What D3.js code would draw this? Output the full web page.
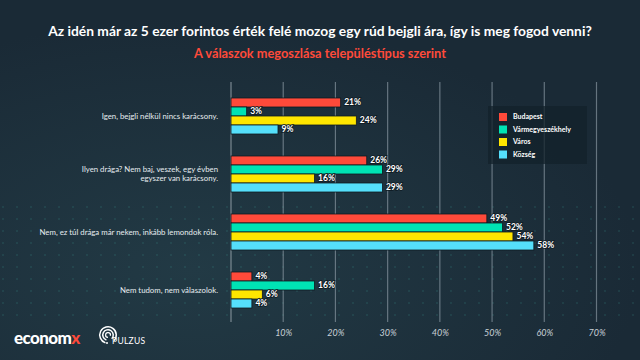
<!DOCTYPE html>
<html><head><meta charset="utf-8">
<script src="https://cdn.jsdelivr.net/npm/d3@7"></script>
<style>html,body{margin:0;padding:0;background:#1b2c38;}svg{display:block;}</style>
</head><body>
<script>
const title = "Az idén már az 5 ezer forintos érték felé mozog egy rúd bejgli ára, így is meg fogod venni?";
const subtitle = "A válaszok megoszlása településtípus szerint";
const categories = [
  "Igen, bejgli nélkül nincs karácsony.",
  "Ilyen drága? Nem baj, veszek, egy évben|egyszer van karácsony.",
  "Nem, ez túl drága már nekem, inkább lemondok róla.",
  "Nem tudom, nem válaszolok."
];
const seriesNames = ["Budapest", "Vármegyeszékhely", "Város", "Község"];
const budapest = [21, 26, 49, 4];
const varmegyeszekhely = [3, 29, 52, 16];
const varos = [24, 16, 54, 6];
const kozseg = [9, 29, 58, 4];
const ticks = [10, 20, 30, 40, 50, 60, 70];
const colors = ["#ff4a3a", "#00e3b4", "#ffe600", "#55dffb"];

const seriesValues = [budapest, varmegyeszekhely, varos, kozseg];
const W = 640, H = 360;
const svg = d3.select("body").append("svg").attr("width", W).attr("height", H);

// background
const defs = svg.append("defs");
const rg = defs.append("radialGradient").attr("id","bg").attr("cx","30%").attr("cy","75%").attr("r","70%");
rg.append("stop").attr("offset","0%").attr("stop-color","#223a45");
rg.append("stop").attr("offset","100%").attr("stop-color","#1a2a36");
svg.append("rect").attr("width",W).attr("height",H).attr("fill","url(#bg)");
const pat = defs.append("pattern").attr("id","dots").attr("width",14).attr("height",12).attr("patternUnits","userSpaceOnUse");
pat.append("circle").attr("cx",3).attr("cy",3).attr("r",0.9).attr("fill","#3fb6a8");
svg.append("rect").attr("x",0).attr("y",200).attr("width",640).attr("height",120).attr("fill","url(#dots)").attr("opacity",0.18);

// titles
svg.append("text").attr("x",320).attr("y",36).attr("text-anchor","middle")
  .attr("font-family","Lato").attr("font-weight","bold").attr("font-size",13.8).attr("fill","#ffffff").text(title);
svg.append("text").attr("x",320).attr("y",58).attr("text-anchor","middle")
  .attr("font-family","Lato").attr("font-weight","bold").attr("font-size",12.8).attr("fill","#ff4a3a").text(subtitle);

// scales
const x = d3.scaleLinear().domain([0,70]).range([231, 596.5]);
const y = d3.scaleBand().domain(categories).range([87, 319]).paddingInner(22/58).paddingOuter(11/58);
const yi = d3.scaleBand().domain(seriesNames).range([0, y.bandwidth()]);

// grid
const g = svg.append("g");
g.selectAll("line.grid").data([0].concat(ticks)).join("line")
  .attr("x1", d=>x(d)).attr("x2", d=>x(d)).attr("y1", 82).attr("y2", 322)
  .attr("stroke", d=> d===0 ? "#9aa6ae" : "#7f8e98").attr("stroke-opacity", 0.75).attr("stroke-width", 1.2);

// axis tick labels
const axis = d3.axisBottom(x).tickValues(ticks).tickFormat(d=>d+"%").tickSize(0).tickPadding(0);
const ax = svg.append("g").attr("transform","translate(0,330)").call(axis);
ax.select(".domain").remove();
ax.selectAll("text").attr("font-family","Lato").attr("font-style","italic").attr("font-size",9).attr("fill","#c9d1d7");

// bars
const rows = [];
categories.forEach((c,ci)=>seriesNames.forEach((s,si)=>rows.push({c, s, v: seriesValues[si][ci], color: colors[si]})));
svg.append("g").selectAll("rect").data(rows).join("rect")
  .attr("x", x(0)).attr("y", d=>y(d.c)+yi(d.s))
  .attr("width", d=>x(d.v)-x(0)).attr("height", yi.bandwidth())
  .attr("fill", d=>d.color).attr("stroke","#0e1a22").attr("stroke-width",0.8);
svg.append("g").selectAll("text").data(rows).join("text")
  .attr("x", d=>x(d.v)+3.5).attr("y", d=>y(d.c)+yi(d.s)+yi.bandwidth()/2).attr("dy","0.35em")
  .attr("font-family","Lato").attr("font-weight","bold").attr("font-size",8.5).attr("fill","#ffffff")
  .attr("stroke","#0e1a22").attr("stroke-width",1.5).attr("paint-order","stroke")
  .text(d=>d.v+"%");

// category labels
const cl = svg.append("g").selectAll("text").data(categories).join("text")
  .attr("x", 218).attr("y", d=>y(d)+y.bandwidth()/2)
  .attr("text-anchor","end").attr("font-family","Lato").attr("font-size",7.8).attr("fill","#e6ecef");
cl.each(function(d){
  const lines = d.split("|");
  const t = d3.select(this);
  lines.forEach((ln,i)=>{
    t.append("tspan").attr("x",218).attr("dy", i===0 ? ((0.35 - (lines.length-1)*0.6)+"em") : "1.2em").text(ln);
  });
});

// legend
const lg = svg.append("g");
lg.append("rect").attr("x",488).attr("y",106).attr("width",99).attr("height",58).attr("fill","#13212b").attr("opacity",0.75);
const ly = d3.scalePoint().domain(seriesNames).range([117, 154.5]);
lg.selectAll("rect.sw").data(seriesNames).join("rect").attr("class","sw")
  .attr("x",499).attr("y",d=>ly(d)-4).attr("width",8).attr("height",8).attr("fill",(d,i)=>colors[i]);
lg.selectAll("text").data(seriesNames).join("text")
  .attr("x",513).attr("y",d=>ly(d)).attr("dy","0.35em")
  .attr("font-family","Lato").attr("font-weight","bold").attr("font-size",7).attr("fill","#ffffff").text(d=>d);

// logos
const logo = svg.append("text").attr("x",14).attr("y",344).attr("font-family","Lato").attr("font-weight","900").attr("font-size",17).attr("fill","#ffffff").attr("letter-spacing",-0.6);
logo.append("tspan").text("econom");
logo.append("tspan").attr("fill","#ff4a3a").text("x");
const pz = svg.append("g").attr("transform","translate(108,335)");
pz.append("path").attr("d", d3.arc()({innerRadius:7.5,outerRadius:9,startAngle:-Math.PI*0.9,endAngle:Math.PI*0.75})).attr("fill","#fff");
pz.append("path").attr("d", d3.arc()({innerRadius:4.5,outerRadius:6,startAngle:-Math.PI*0.9,endAngle:Math.PI*0.75})).attr("fill","#fff");
pz.append("path").attr("d", d3.arc()({innerRadius:1.8,outerRadius:3,startAngle:-Math.PI,endAngle:Math.PI*0.6})).attr("fill","#fff");
pz.append("circle").attr("cx",-1).attr("cy",8).attr("r",1).attr("fill","#fff");
svg.append("text").attr("x",112).attr("y",344).attr("font-family","Lato").attr("font-size",8.5).attr("fill","#ffffff").attr("letter-spacing",0.3).text("PULZUS");
</script>
</body></html>
